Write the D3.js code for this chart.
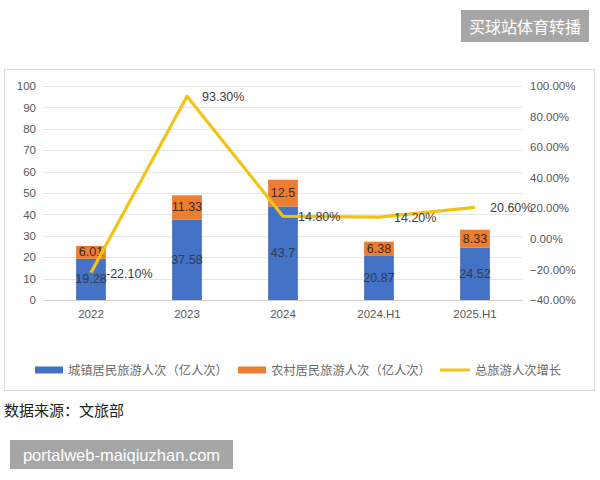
<!DOCTYPE html>
<html>
<head>
<meta charset="utf-8">
<script src="https://cdn.jsdelivr.net/npm/d3@7"></script>
<style>
  body { margin: 0; background: #fff; }
  svg { display: block; }
</style>
</head>
<body>
<script>
// data
var categories = ["2022", "2023", "2024", "2024.H1", "2025.H1"];
var urban = [19.28, 37.58, 43.7, 20.87, 24.52];
var rural = [6.01, 11.33, 12.5, 6.38, 8.33];
var growth = [-22.1, 93.3, 14.8, 14.2, 20.6];
var leftTicks = [0, 10, 20, 30, 40, 50, 60, 70, 80, 90, 100];
var rightTicks = [-40, -20, 0, 20, 40, 60, 80, 100];
var legendNames = ["城镇居民旅游人次（亿人次）", "农村居民旅游人次（亿人次）", "总旅游人次增长"];

var width = 600, height = 480;
var blue = "#4472c4", orange = "#ed7d31", gold = "#f2c314";
var axisColor = "#595959";
var fontCJK = "'Noto Sans CJK SC', 'Noto Sans', sans-serif";

var svg = d3.select("body").append("svg")
    .attr("width", width)
    .attr("height", height);

// top watermark
svg.append("rect")
    .attr("x", 461).attr("y", 10).attr("width", 128).attr("height", 32)
    .attr("fill", "#a6a6a6");
svg.append("text")
    .attr("x", 525).attr("y", 26)
    .attr("text-anchor", "middle").attr("dominant-baseline", "central")
    .attr("font-family", fontCJK).attr("font-size", 16)
    .attr("fill", "#fff")
    .text("买球站体育转播");

// chart frame
svg.append("rect")
    .attr("x", 4.5).attr("y", 69.5).attr("width", 590).attr("height", 321)
    .attr("fill", "#fff").attr("stroke", "#d9d9d9");

var x = d3.scaleBand()
    .domain(categories)
    .range([43, 523])
    .paddingInner(0.69)
    .paddingOuter(0.345);

var yLeft = d3.scaleLinear().domain([0, 100]).range([300, 86]);
var yRight = d3.scaleLinear().domain([-40, 100]).range([300, 86]);

// gridlines
svg.append("g")
    .selectAll("line")
    .data(leftTicks)
    .enter().append("line")
    .attr("x1", 43).attr("x2", 523)
    .attr("y1", function(d) { return Math.round(yLeft(d)) + 0.5; })
    .attr("y2", function(d) { return Math.round(yLeft(d)) + 0.5; })
    .attr("stroke", function(d) { return d == 0 ? "#d0d0d0" : "#e6e6e6"; });

// left axis
var gl = svg.append("g")
    .attr("transform", "translate(36,0)")
    .call(d3.axisLeft(yLeft).tickValues(leftTicks).tickSize(0).tickPadding(0));
gl.select(".domain").remove();
gl.selectAll("text")
    .attr("font-family", "'Liberation Sans', Arial, sans-serif")
    .attr("font-size", 11.5).attr("fill", axisColor);

// right axis
var gr = svg.append("g")
    .attr("transform", "translate(530,0)")
    .call(d3.axisRight(yRight).tickValues(rightTicks)
        .tickFormat(function(d) { return d3.format(".2f")(d) + "%"; })
        .tickSize(0).tickPadding(0));
gr.select(".domain").remove();
gr.selectAll("text")
    .attr("font-family", "'Liberation Sans', Arial, sans-serif")
    .attr("font-size", 11.5).attr("fill", axisColor);

// x axis labels
var gx = svg.append("g")
    .attr("transform", "translate(0,310)")
    .call(d3.axisBottom(x).tickSize(0).tickPadding(0));
gx.select(".domain").remove();
gx.selectAll("text")
    .attr("font-family", "'Liberation Sans', Arial, sans-serif")
    .attr("font-size", 11.5).attr("fill", axisColor);

// stacked bars
var rows = categories.map(function(c, i) {
    return { cat: c, urban: urban[i], rural: rural[i] };
});
var stack = d3.stack().keys(["urban", "rural"])(rows);
var colors = { urban: blue, rural: orange };

var layer = svg.append("g")
    .selectAll("g")
    .data(stack)
    .enter().append("g")
    .attr("fill", function(d) { return colors[d.key]; });

layer.selectAll("rect")
    .data(function(d) { return d; })
    .enter().append("rect")
    .attr("x", function(d) { return x(d.data.cat); })
    .attr("width", x.bandwidth())
    .attr("y", function(d) { return yLeft(d[1]); })
    .attr("height", function(d) { return yLeft(d[0]) - yLeft(d[1]); });

layer.selectAll("text")
    .data(function(d) { return d.map(function(p) { p.key = d.key; return p; }); })
    .enter().append("text")
    .attr("x", function(d) { return x(d.data.cat) + x.bandwidth() / 2; })
    .attr("y", function(d) { return (yLeft(d[0]) + yLeft(d[1])) / 2; })
    .attr("text-anchor", "middle").attr("dominant-baseline", "central")
    .attr("font-family", "'Liberation Sans', Arial, sans-serif")
    .attr("font-size", 12.5)
    .attr("fill", function(d) { return d.key == "urban" ? "#2f3b52" : "#3a2a20"; })
    .text(function(d) { return String(d.data[d.key]); });

// growth line
var pts = categories.map(function(c, i) { return { cat: c, v: growth[i] }; });
var line = d3.line()
    .x(function(d) { return x(d.cat) + x.bandwidth() / 2; })
    .y(function(d) { return yRight(d.v); });

svg.append("path")
    .datum(pts)
    .attr("d", line)
    .attr("fill", "none")
    .attr("stroke", gold)
    .attr("stroke-width", 3.2)
    .attr("stroke-linejoin", "round");

svg.append("g")
    .selectAll("text")
    .data(pts)
    .enter().append("text")
    .attr("x", function(d) { return x(d.cat) + x.bandwidth() / 2 + 15; })
    .attr("y", function(d) { return yRight(d.v) + 1; })
    .attr("dominant-baseline", "central")
    .attr("font-family", "'Liberation Sans', Arial, sans-serif")
    .attr("font-size", 12.5).attr("fill", "#404040")
    .text(function(d) { return d.v.toFixed(2) + "%"; });

// legend
var legend = svg.append("g").attr("transform", "translate(0,370)");
var legendX = [35, 238, 440];
legendNames.forEach(function(name, i) {
    if (i < 2) {
        legend.append("rect")
            .attr("x", legendX[i]).attr("y", -3.5)
            .attr("width", 28).attr("height", 7)
            .attr("fill", i == 0 ? blue : orange);
    } else {
        legend.append("line")
            .attr("x1", legendX[i]).attr("x2", legendX[i] + 30)
            .attr("y1", 0).attr("y2", 0)
            .attr("stroke", gold).attr("stroke-width", 3);
    }
    legend.append("text")
        .attr("x", legendX[i] + (i < 2 ? 33 : 35)).attr("y", 0)
        .attr("dominant-baseline", "central")
        .attr("font-family", fontCJK)
        .attr("font-size", 12.3).attr("fill", "#6b6b6b")
        .text(name);
});

// source note
svg.append("text")
    .attr("x", 4).attr("y", 409)
    .attr("dominant-baseline", "central")
    .attr("font-family", fontCJK)
    .attr("font-size", 15).attr("fill", "#222")
    .text("数据来源：文旅部");

// bottom watermark
svg.append("rect")
    .attr("x", 10).attr("y", 440).attr("width", 223).attr("height", 29)
    .attr("fill", "#a6a6a6");
svg.append("text")
    .attr("x", 121.5).attr("y", 455)
    .attr("text-anchor", "middle").attr("dominant-baseline", "central")
    .attr("font-family", "'Liberation Sans', Arial, sans-serif")
    .attr("font-size", 16.5).attr("fill", "#fff")
    .text("portalweb-maiqiuzhan.com");
</script>
</body>
</html>
